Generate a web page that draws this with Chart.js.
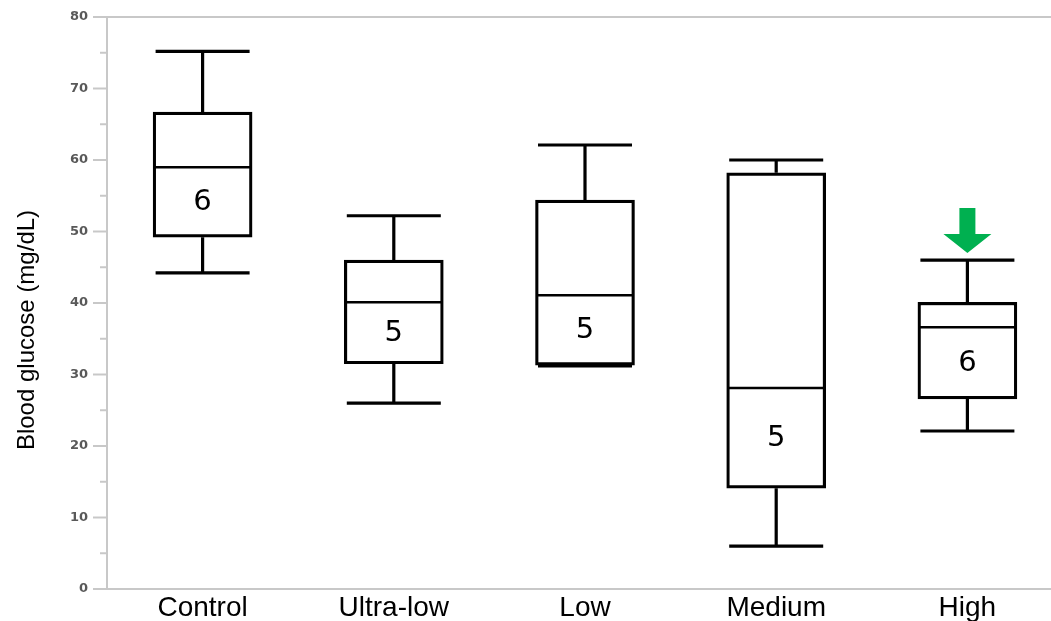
<!DOCTYPE html>
<html>
<head>
<meta charset="utf-8">
<script src="https://cdn.jsdelivr.net/npm/chart.js@4.4.1/dist/chart.umd.min.js"></script>
<style>
  html, body { margin: 0; padding: 0; background: #fff; overflow: hidden; }
  #wrap { position: absolute; left: 0; top: 0; width: 1063px; height: 621px; }
</style>
</head>
<body>
<div id="wrap"><canvas id="box" width="1063" height="621"></canvas></div>
<script>
// box plot values (mg/dL)
const categories = ['Control', 'Ultra-low', 'Low', 'Medium', 'High'];
const whiskerLow = [44.2, 26.0, 31.2, 6.0, 22.1];
const quartile1 = [49.2, 31.5, 31.3, 14.1, 26.6];
const medians = [59.0, 40.1, 41.1, 28.1, 36.6];
const quartile3 = [66.7, 46.0, 54.4, 58.2, 40.1];
const whiskerHigh = [75.2, 52.2, 62.1, 60.0, 46.0];
const sampleSizes = [6, 5, 5, 5, 6];
const flagged = ['High'];
const yMin = 0;
const yMax = 80;
const yStep = 5;
const yTitle = 'Blood glucose (mg/dL)';

const AXIS_GRAY = '#c8c8c8';

/**
 * Whiskers, medians, n labels, the arrow and the axis decorations
 */
const boxExtras = {
  id: 'boxExtras',
  afterDatasetsDraw(chart) {
    const { ctx, chartArea, scales } = chart;
    const xs = scales.x;
    const ys = scales.y;
    const bars = chart.getDatasetMeta(0).data;

    ctx.save();

    // top frame line
    ctx.strokeStyle = AXIS_GRAY;
    ctx.lineWidth = 2;
    ctx.beginPath();
    ctx.moveTo(chartArea.left, chartArea.top);
    ctx.lineTo(chartArea.right, chartArea.top);
    ctx.stroke();

    // y tick marks, long at tens, short at fives
    ys.ticks.forEach((t) => {
      const y = ys.getPixelForValue(t.value);
      const len = t.value % 10 === 0 ? 14 : 7;
      ctx.beginPath();
      ctx.moveTo(chartArea.left - len, y);
      ctx.lineTo(chartArea.left, y);
      ctx.stroke();
    });

    ctx.strokeStyle = '#000';
    ctx.lineCap = 'butt';
    categories.forEach((cat, i) => {
      const x = xs.getPixelForValue(i);
      const half = bars[i].width / 2;
      const capHalf = 47;
      const yLo = ys.getPixelForValue(whiskerLow[i]);
      const yHi = ys.getPixelForValue(whiskerHigh[i]);
      const yQ1 = ys.getPixelForValue(quartile1[i]);
      const yQ3 = ys.getPixelForValue(quartile3[i]);
      const yMed = ys.getPixelForValue(medians[i]);

      ctx.lineWidth = 3.2;
      ctx.beginPath();
      ctx.moveTo(x, yQ3);
      ctx.lineTo(x, yHi);
      ctx.moveTo(x, yQ1);
      ctx.lineTo(x, yLo);
      ctx.moveTo(x - capHalf, yHi);
      ctx.lineTo(x + capHalf, yHi);
      ctx.moveTo(x - capHalf, yLo);
      ctx.lineTo(x + capHalf, yLo);
      ctx.stroke();

      ctx.lineWidth = 2.5;
      ctx.beginPath();
      ctx.moveTo(x - half + 1, yMed);
      ctx.lineTo(x + half - 1, yMed);
      ctx.stroke();

      // n in the lower half of the box
      const yN = ys.getPixelForValue((medians[i] + quartile1[i]) / 2);
      ctx.fillStyle = '#000';
      ctx.font = '29px "DejaVu Sans"';
      ctx.textAlign = 'center';
      ctx.textBaseline = 'middle';
      ctx.fillText(String(sampleSizes[i]), x, yN);

      if (flagged.includes(cat)) {
        const tip = yHi - 7;
        ctx.fillStyle = '#00b050';
        ctx.beginPath();
        ctx.moveTo(x - 8, tip - 45);
        ctx.lineTo(x + 8, tip - 45);
        ctx.lineTo(x + 8, tip - 19);
        ctx.lineTo(x + 24, tip - 19);
        ctx.lineTo(x, tip);
        ctx.lineTo(x - 24, tip - 19);
        ctx.lineTo(x - 8, tip - 19);
        ctx.closePath();
        ctx.fill();
      }
    });

    // y axis title
    ctx.fillStyle = '#000';
    ctx.font = '24px "Liberation Sans"';
    ctx.textAlign = 'center';
    ctx.textBaseline = 'middle';
    ctx.translate(27, 330);
    ctx.rotate(-Math.PI / 2);
    ctx.fillText(yTitle, 0, 0);

    ctx.restore();
  },
};

new Chart(document.getElementById('box'), {
  type: 'bar',
  data: {
    labels: categories,
    datasets: [
      {
        data: categories.map((c, i) => [quartile1[i], quartile3[i]]),
        backgroundColor: '#ffffff',
        borderColor: '#000000',
        borderWidth: 3.2,
        borderSkipped: false,
        barThickness: 99,
      },
    ],
  },
  options: {
    responsive: false,
    animation: false,
    layout: { padding: { top: 17, right: 0, bottom: 0, left: 0 } },
    plugins: {
      legend: { display: false },
      tooltip: { enabled: false },
    },
    scales: {
      x: {
        grid: { display: false, drawTicks: false },
        border: { display: true, color: AXIS_GRAY, width: 2 },
        ticks: {
          padding: 2,
          color: '#000',
          font: { family: 'Liberation Sans', size: 28 },
        },
        afterFit(scale) {
          scale.height = 32;
          scale.paddingLeft = 0;
          scale.paddingRight = 0;
        },
      },
      y: {
        min: yMin,
        max: yMax,
        grid: { display: false, drawTicks: false },
        border: { display: true, color: AXIS_GRAY, width: 2 },
        ticks: {
          stepSize: yStep,
          autoSkip: false,
          padding: 19,
          color: '#595959',
          font: { family: 'DejaVu Sans', size: 13, weight: 'bold' },
          callback: (v) => (v % 10 === 0 ? String(v) : ''),
        },
        afterFit(scale) {
          scale.width = 107;
          scale.paddingTop = 0;
          scale.paddingBottom = 0;
        },
      },
    },
  },
  plugins: [boxExtras],
});
</script>
</body>
</html>
